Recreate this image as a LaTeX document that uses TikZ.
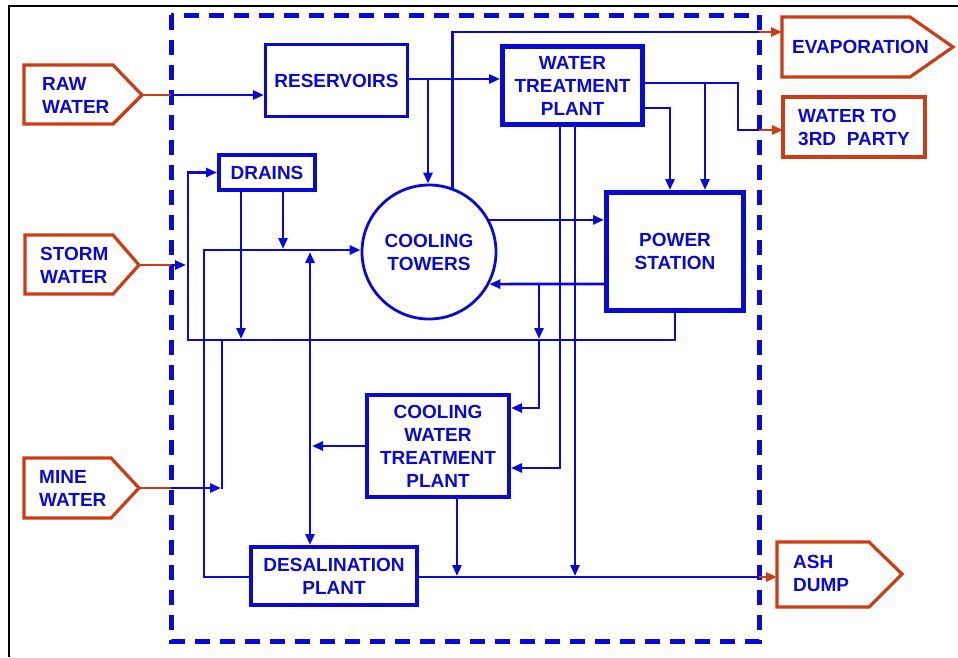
\documentclass[tikz,border=0pt]{standalone}
\usepackage{fontspec}
\setmainfont{Liberation Sans}
\usetikzlibrary{arrows.meta}
\definecolor{fb}{RGB}{10,10,215}
\definecolor{fr}{RGB}{205,60,20}
\begin{document}
\begin{tikzpicture}[x=1pt,y=-1pt,
  txt/.style={text=fb,font=\fontsize{19}{23}\selectfont\bfseries,inner sep=0pt},
  box/.style={draw=fb,txt,align=center},
  flow/.style={draw=fb,line width=2.7pt,-{Triangle[length=11pt,width=9pt]}},
  dflow/.style={draw=fb,line width=2.7pt,{Triangle[length=11pt,width=9pt]}-{Triangle[length=11pt,width=9pt]}},
  pipe/.style={draw=fb,line width=2.7pt},
  redflow/.style={draw=fr,line width=2.8pt,-{Triangle[length=11pt,width=9pt]}},
  redpipe/.style={draw=fr,line width=2.8pt},
  pent/.style={draw=fr,line width=3.2pt,line join=miter},
]
\useasboundingbox (0,0) rectangle (958,657);
% outer frame (clipped screenshot border)
\draw[black,line width=2.5pt] (9,657) -- (9,6) -- (958,6);
% system boundary
\draw[fb,line width=5pt,dash pattern=on 15pt off 10pt] (171,15) rectangle (759,641);

% ---------- blocks ----------
\node[box,line width=3.2pt,minimum width=142pt,minimum height=72pt] (res) at (336.5,80.5) {RESERVOIRS};
\node[box,line width=4pt,minimum width=96pt,minimum height=35pt] (drains) at (267,172.5) {DRAINS};
\node[box,line width=5pt,minimum width=140pt,minimum height=78pt] (wtp) at (572.5,85.5) {WATER\\TREATMENT\\PLANT};
\node[box,circle,line width=2.8pt,minimum size=134pt] (ct) at (429,252) {COOLING\\TOWERS};
\node[box,line width=5pt,minimum width=137pt,minimum height=118pt] (ps) at (675,251.5) {POWER\\STATION};
\node[box,line width=4pt,minimum width=142pt,minimum height=102pt] (cwtp) at (438,446) {COOLING\\WATER\\TREATMENT\\PLANT};
\node[box,line width=4pt,minimum width=166pt,minimum height=58pt] (desal) at (334,576) {DESALINATION\\PLANT};

% ---------- external sources / sinks ----------
\draw[pent] (24,65) -- (113,65) -- (142,95) -- (113,124) -- (24,124) -- cycle;
\coordinate (rawtip) at (142,95);
\node[txt,align=left,anchor=west] (raw) at (42,95) {RAW\\WATER};

\draw[pent] (25,235) -- (113,235) -- (139,265) -- (113,294) -- (25,294) -- cycle;
\coordinate (stormtip) at (139,265);
\node[txt,align=left,anchor=west] (storm) at (40,265) {STORM\\WATER};

\draw[pent] (24,458) -- (111,458) -- (139,488) -- (111,518) -- (24,518) -- cycle;
\coordinate (minetip) at (139,488);
\node[txt,align=left,anchor=west] (mine) at (39,488) {MINE\\WATER};

\draw[pent] (782,17) -- (910,17) -- (953,47) -- (910,77) -- (782,77) -- cycle;
\coordinate (evapin) at (782,32);
\node[txt,align=left,anchor=west] (evap) at (792,47) {EVAPORATION};

\draw[pent] (783,97) rectangle (925,157);
\coordinate (thirdin) at (783,130);
\node[txt,align=left,anchor=west] (third) at (798,127) {WATER TO\\3RD~ PARTY};

\draw[pent] (777,542) -- (869,542) -- (902,574) -- (869,607) -- (777,607) -- cycle;
\coordinate (ashin) at (777,577);
\node[txt,align=left,anchor=west] (ash) at (793,573) {ASH\\DUMP};

% ---------- junction / boundary points ----------
\coordinate (bRaw) at (171,95);
\coordinate (bStorm) at (171,265);
\coordinate (bMine) at (171,488);
\coordinate (bEvap) at (759,32);
\coordinate (bThird) at (759,130);
\coordinate (bAsh) at (759,577);
\coordinate (jL) at (188,340);
\coordinate (jCT) at (204,250);
\coordinate (jMine) at (222,340);
\coordinate (jPS) at (539,284);
\coordinate (jW) at (738,83);

% ---------- inputs ----------
\draw[redpipe] (rawtip) -- (bRaw);
\draw[flow] (bRaw) -- (res.west |- bRaw);
\draw[redpipe] (stormtip) -- (bStorm);
\draw[flow] (bStorm) -- (186,265);
\draw[redpipe] (minetip) -- (bMine);
\draw[flow] (bMine) -- (221,488);
\draw[pipe] (jMine) -- (222,489);

% ---------- return / drains loop ----------
\draw[flow] (ps.south) |- (jL) |- (drains.west);
\draw[flow] (drains.south -| 241,0) -- (241,339);
\draw[flow] (drains.south -| 283,0) -- (283,249);
\draw[flow] (desal.west |- 0,577) -| (jCT) -- (ct.west |- jCT);
\draw[dflow] (310,252) -- (desal.north -| 310,0);
\draw[flow] (cwtp.west) -- (312,446);

% ---------- reservoirs / water treatment ----------
\draw[flow] (res.east |- 0,79) -- (wtp.west |- 0,79);
\draw[flow] (428,79) -- (ct.north -| 428,0);
\draw[pipe] (ct.70) |- (bEvap);
\draw[redflow] (bEvap) -- (evapin);
\draw[pipe] (wtp.east |- jW) -- (jW) |- (bThird);
\draw[redflow] (bThird) -- (thirdin);
\draw[flow] (705,83) -- (ps.north -| 705,0);
\draw[flow] (wtp.east |- 0,108) -| (ps.north -| 670,0);
\draw[flow] (wtp.south -| 560,0) |- (cwtp.east |- 0,468);
\draw[flow] (wtp.south -| 575,0) -- (575,576);

% ---------- cooling towers / power station ----------
\draw[flow] (ct.28) -- (ps.west |- ct.28);
\draw[flow] (ps.west |- jPS) -- (ct.332);
\draw[flow] (jPS) -- (539,339);
\draw[flow] (539,340) |- (cwtp.east |- 0,408);

% ---------- to ash dump ----------
\draw[flow] (cwtp.south -| 457,0) -- (457,576);
\draw[pipe] (desal.east |- 0,577) -- (bAsh);
\draw[redflow] (bAsh) -- (ashin);
\end{tikzpicture}
\end{document}
